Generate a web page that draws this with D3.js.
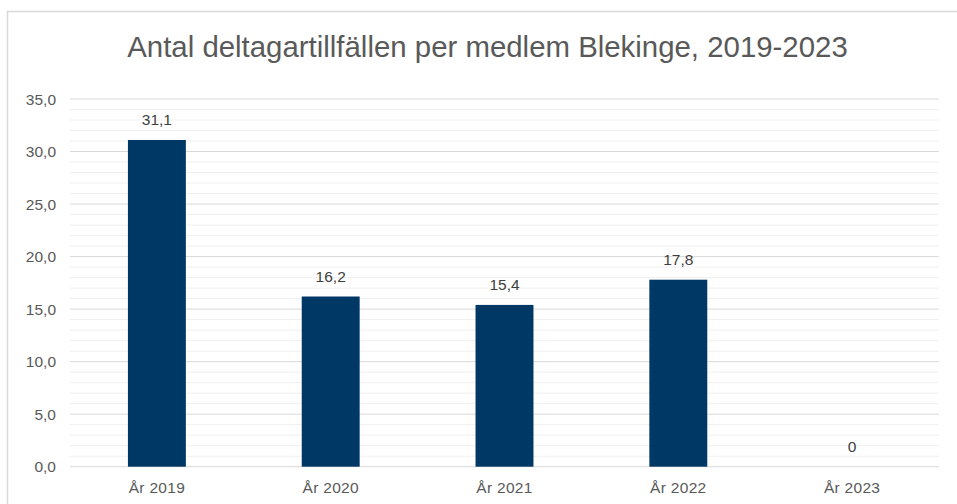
<!DOCTYPE html>
<html>
<head>
<meta charset="utf-8">
<script src="https://cdn.jsdelivr.net/npm/d3@7"></script>
<style>
html,body{margin:0;padding:0;background:#fff;}
svg{display:block;}
text{font-family:"Liberation Sans",Arial,sans-serif;}
</style>
</head>
<body>
<script>
const categories = ["År 2019","År 2020","År 2021","År 2022","År 2023"];
const values = [31.1, 16.2, 15.4, 17.8, 0];
const valueLabels = ["31,1","16,2","15,4","17,8","0"];
const majorTicks = [0,5,10,15,20,25,30,35];
const tickLabels = ["0,0","5,0","10,0","15,0","20,0","25,0","30,0","35,0"];
const minorTicks = d3.range(0,36,1).filter(v => v % 5 !== 0);
const title = "Antal deltagartillfällen per medlem Blekinge, 2019-2023";

const W = 957, H = 504;
const svg = d3.select("body").append("svg").attr("width",W).attr("height",H);

// chart border
svg.append("rect").attr("x",7.5).attr("y",11.5).attr("width",W+20).attr("height",H+20)
  .attr("fill","#fff").attr("stroke","#d9d9d9").attr("stroke-width",1.5);

const plot = {left:70, right:939, top:99, bottom:466.7};

const x = d3.scaleBand().domain(categories).range([plot.left, plot.right]).paddingInner(0.6667).paddingOuter(0.3333);
const y = d3.scaleLinear().domain([0,35]).range([plot.bottom, plot.top]);

// minor gridlines
svg.append("g").selectAll("line").data(minorTicks).join("line")
  .attr("x1",plot.left).attr("x2",plot.right)
  .attr("y1",d=>y(d)).attr("y2",d=>y(d))
  .attr("stroke","#f0f0f0").attr("stroke-width",1);

// major gridlines
svg.append("g").selectAll("line").data(majorTicks).join("line")
  .attr("x1",plot.left).attr("x2",plot.right)
  .attr("y1",d=>y(d)).attr("y2",d=>y(d))
  .attr("stroke","#d9d9d9").attr("stroke-width",1);

// y axis labels
svg.append("g").selectAll("text").data(majorTicks).join("text")
  .attr("x",56).attr("y",d=>y(d)+5.5)
  .attr("text-anchor","end").attr("font-size","15.5px").attr("fill","#595959")
  .text((d,i)=>tickLabels[i]);

// bars
svg.append("g").selectAll("rect").data(values).join("rect")
  .attr("x",(d,i)=>x(categories[i])).attr("width",x.bandwidth())
  .attr("y",d=>y(d)).attr("height",d=>y(0)-y(d))
  .attr("fill","#003865");

// data labels
svg.append("g").selectAll("text").data(values).join("text")
  .attr("x",(d,i)=>x(categories[i])+x.bandwidth()/2).attr("y",d=>y(d)-14.5)
  .attr("text-anchor","middle").attr("font-size","15.5px").attr("fill","#404040")
  .text((d,i)=>valueLabels[i]);

// category labels
svg.append("g").selectAll("text").data(categories).join("text")
  .attr("x",d=>x(d)+x.bandwidth()/2).attr("y",492.5)
  .attr("text-anchor","middle").attr("font-size","15.5px").attr("fill","#595959")
  .attr("letter-spacing","0.3px")
  .text(d=>d);

// title
svg.append("text").attr("x",487.5).attr("y",57)
  .attr("text-anchor","middle").attr("font-size","29.4px").attr("fill","#595959")
  .text(title);
</script>
</body>
</html>
